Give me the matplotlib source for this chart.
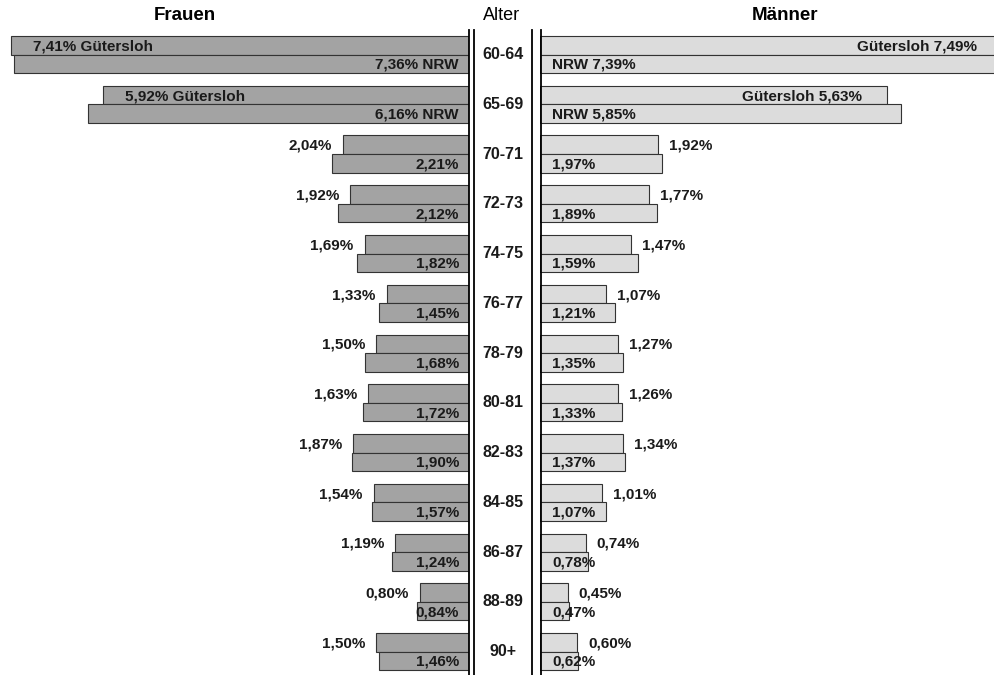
import numpy as np
import matplotlib
matplotlib.use("Agg")
from matplotlib import pyplot as plt
from matplotlib.lines import Line2D

plt.rcParams['font.family'] = ['Liberation Sans', 'DejaVu Sans']

ages = ["60-64", "65-69", "70-71", "72-73", "74-75", "76-77", "78-79",
        "80-81", "82-83", "84-85", "86-87", "88-89", "90+"]
frauen_gt = [7.41, 5.92, 2.04, 1.92, 1.69, 1.33, 1.50, 1.63, 1.87, 1.54, 1.19, 0.80, 1.50]
frauen_nrw = [7.36, 6.16, 2.21, 2.12, 1.82, 1.45, 1.68, 1.72, 1.90, 1.57, 1.24, 0.84, 1.46]
maenner_gt = [7.49, 5.63, 1.92, 1.77, 1.47, 1.07, 1.27, 1.26, 1.34, 1.01, 0.74, 0.45, 0.60]
maenner_nrw = [7.39, 5.85, 1.97, 1.89, 1.59, 1.21, 1.35, 1.33, 1.37, 1.07, 0.78, 0.47, 0.62]

W, H = 995, 675
fig = plt.figure(figsize=(W / 100, H / 100), dpi=100)

def fmt(v):
    return ("%.2f%%" % v).replace(".", ",")

pos = np.arange(len(ages))
h = 0.372
ylim = (12.472, -0.4925)
txt = dict(fontsize=11, fontweight='bold', color='#1a1a1a', va='center')

# Frauen (left, inverted)
axl = fig.add_axes([0, 0, 469 / W, 645 / H])
axl.barh(pos - h / 2, frauen_gt, height=h, color='#a3a3a3', edgecolor='#333333', lw=0.8)
axl.barh(pos + h / 2, frauen_nrw, height=h, color='#a3a3a3', edgecolor='#333333', lw=0.8)
axl.set_xlim(469 / 61.8, 0)
axl.set_ylim(*ylim)
for i in pos:
    if i < 2:
        axl.annotate(fmt(frauen_gt[i]) + " Gütersloh", (frauen_gt[i], i - h / 2),
                     xytext=(22, -1), textcoords='offset pixels', ha='left', **txt)
    else:
        axl.annotate(fmt(frauen_gt[i]), (frauen_gt[i], i - h / 2),
                     xytext=(-11, -1), textcoords='offset pixels', ha='right', **txt)
    lab = fmt(frauen_nrw[i]) + (" NRW" if i < 2 else "")
    axl.annotate(lab, (0, i + h / 2), xytext=(-10, -1), textcoords='offset pixels',
                 ha='right', **txt)
axl.axis('off')

# Maenner (right)
axr = fig.add_axes([540 / W, 0, 455 / W, 645 / H])
axr.barh(pos - h / 2, maenner_gt, height=h, color='#dcdcdc', edgecolor='#333333', lw=0.8)
axr.barh(pos + h / 2, maenner_nrw, height=h, color='#dcdcdc', edgecolor='#333333', lw=0.8)
axr.set_xlim(0, 455 / 61.7)
axr.set_ylim(*ylim)
for i in pos:
    if i < 2:
        axr.annotate("Gütersloh " + fmt(maenner_gt[i]), (maenner_gt[i], i - h / 2),
                     xytext=(-25, -1), textcoords='offset pixels', ha='right',
                     annotation_clip=False, **txt)
    else:
        axr.annotate(fmt(maenner_gt[i]), (maenner_gt[i], i - h / 2),
                     xytext=(11, -1), textcoords='offset pixels', ha='left', **txt)
    lab = ("NRW " if i < 2 else "") + fmt(maenner_nrw[i])
    axr.annotate(lab, (0, i + h / 2), xytext=(12, -1), textcoords='offset pixels',
                 ha='left', **txt)
axr.axis('off')

# middle column with age groups
axm = fig.add_axes([474 / W, 0, 58 / W, 645 / H])
axm.set_xlim(0, 1)
axm.set_ylim(*ylim)
for i in pos:
    axm.text(0.5, i, ages[i], ha='center', va='center', fontsize=11.5,
             fontweight='bold', color='#1a1a1a')
axm.axis('off')

for x in [469.5, 474.5, 532, 540.5]:
    fig.add_artist(Line2D([x / W, x / W], [0, 1 - 30 / H], color='black', lw=1.3))

fig.text(185 / W, 1 - 16 / H, "Frauen", ha='center', va='center', fontsize=13.5, fontweight='bold')
fig.text(785 / W, 1 - 16 / H, "Männer", ha='center', va='center', fontsize=13.5, fontweight='bold')
fig.text(502 / W, 1 - 15 / H, "Alter", ha='center', va='center', fontsize=13)

fig.savefig("out.png", dpi=100)
